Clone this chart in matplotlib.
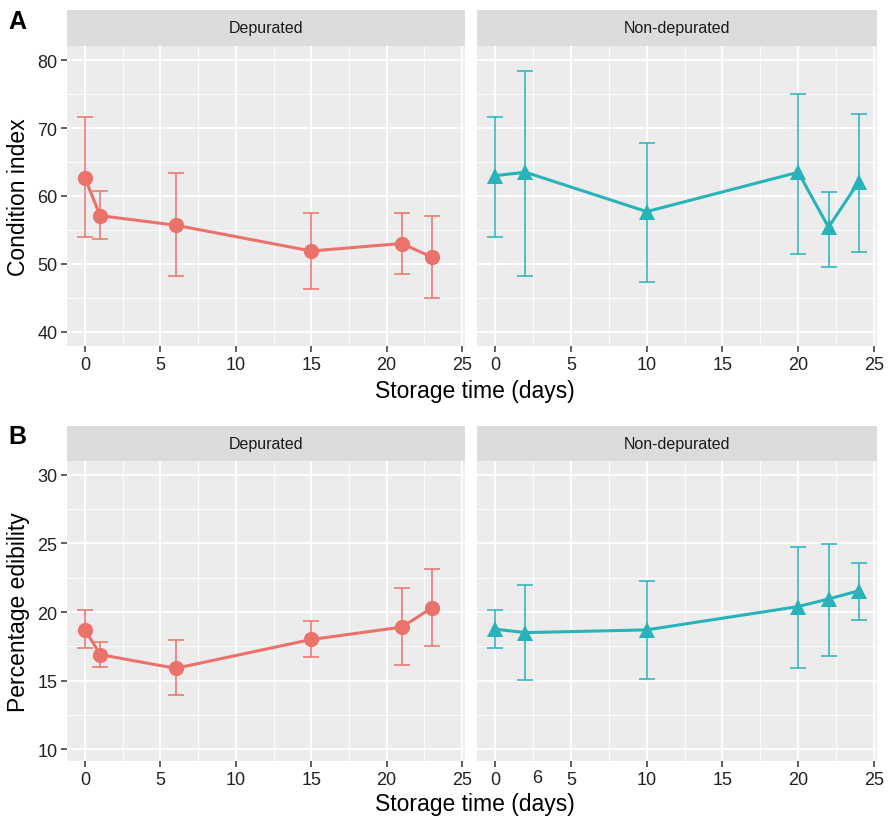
import matplotlib
matplotlib.use("Agg")
import matplotlib.pyplot as plt
from matplotlib.transforms import blended_transform_factory
import numpy as np

plt.rcParams['font.family'] = ['Liberation Sans', 'DejaVu Sans']

# ---- data ----
facets = ["Depurated", "Non-depurated"]
dep_days = [0, 1, 6, 15, 21, 23]
nondep_days = [0, 2, 10, 20, 22, 24]

ci_dep = [62.6, 57.1, 55.7, 51.9, 53.0, 51.0]
ci_dep_hi = [71.6, 60.7, 63.4, 57.5, 57.5, 57.1]
ci_dep_lo = [53.9, 53.7, 48.2, 46.3, 48.5, 45.0]
ci_non = [63.0, 63.5, 57.7, 63.5, 55.4, 62.1]
ci_non_hi = [71.6, 78.4, 67.8, 75.0, 60.6, 72.1]
ci_non_lo = [54.0, 48.2, 47.4, 51.4, 49.5, 51.8]

pe_dep = [18.7, 16.9, 15.9, 18.0, 18.9, 20.3]
pe_dep_hi = [20.15, 17.8, 17.95, 19.35, 21.75, 23.1]
pe_dep_lo = [17.35, 16.0, 13.95, 16.75, 16.15, 17.5]
pe_non = [18.75, 18.5, 18.7, 20.4, 20.95, 21.55]
pe_non_hi = [20.15, 21.95, 22.25, 24.7, 24.95, 23.6]
pe_non_lo = [17.35, 15.05, 15.15, 15.95, 16.8, 19.45]

x_ticks = [0, 5, 10, 15, 20, 25]
ci_ticks = [40, 50, 60, 70, 80]
pe_ticks = [10, 15, 20, 25, 30]

RED = "#EB726B"
TEAL = "#27B3B8"
BG = "#ECECEC"
STRIP = "#DCDCDC"

W, H = 888, 820
fig = plt.figure(figsize=(W / 100, H / 100), dpi=100)


def px_axes(x0, y0, x1, y1):
    return fig.add_axes([x0 / W, 1 - y1 / H, (x1 - x0) / W, (y1 - y0) / H])


def style(ax, ylim, yticks, yminor, show_y):
    ax.set_facecolor(BG)
    ax.set_xlim(-1.2, 25.2)
    ax.set_ylim(*ylim)
    ax.set_xticks(x_ticks)
    ax.set_xticks([2.5, 7.5, 12.5, 17.5, 22.5], minor=True)
    ax.set_yticks(yticks)
    ax.set_yticks(yminor, minor=True)
    ax.grid(which='major', color='white', linewidth=1.3)
    ax.grid(which='minor', color='white', linewidth=0.6)
    ax.set_axisbelow(True)
    for s in ax.spines.values():
        s.set_visible(False)
    ax.tick_params(which='major', length=4, width=1.1, color='#333333',
                   labelsize=13, labelcolor='#222222', pad=3)
    ax.tick_params(which='minor', length=0)
    if not show_y:
        ax.tick_params(axis='y', left=False, labelleft=False)


def strip(x0, y0, x1, y1, label):
    s = px_axes(x0, y0, x1, y1)
    s.set_facecolor(STRIP)
    s.set_xticks([]); s.set_yticks([])
    for sp in s.spines.values():
        sp.set_visible(False)
    s.text(0.5, 0.5, label, ha='center', va='center', fontsize=11.5, color='#1a1a1a')


def draw(ax, x, y, lo, hi, color, marker, ms):
    y = np.array(y); lo = np.array(lo); hi = np.array(hi)
    ax.errorbar(x, y, yerr=[y - lo, hi - y], fmt='none', ecolor=color,
                elinewidth=1.3, capsize=5.5, capthick=1.3, alpha=0.85, zorder=3)
    ax.plot(x, y, color=color, linewidth=2.2, marker=marker, markersize=ms,
            markeredgewidth=0, zorder=4)


LX = (67, 465)
RX = (477, 877)
A_strip = (11, 47)
A_panel = (47, 347)
B_strip = (427, 462)
B_panel = (462, 762)

axA1 = px_axes(LX[0], A_panel[0], LX[1], A_panel[1])
axA2 = px_axes(RX[0], A_panel[0], RX[1], A_panel[1])
axB1 = px_axes(LX[0], B_panel[0], LX[1], B_panel[1])
axB2 = px_axes(RX[0], B_panel[0], RX[1], B_panel[1])

ci_lim = (37.9, 82.1)
pe_lim = (9.15, 31.0)
style(axA1, ci_lim, ci_ticks, [45, 55, 65, 75], True)
style(axA2, ci_lim, ci_ticks, [45, 55, 65, 75], False)
style(axB1, pe_lim, pe_ticks, [12.5, 17.5, 22.5, 27.5], True)
style(axB2, pe_lim, pe_ticks, [12.5, 17.5, 22.5, 27.5], False)

draw(axA1, dep_days, ci_dep, ci_dep_lo, ci_dep_hi, RED, 'o', 11)
draw(axA2, nondep_days, ci_non, ci_non_lo, ci_non_hi, TEAL, '^', 12)
draw(axB1, dep_days, pe_dep, pe_dep_lo, pe_dep_hi, RED, 'o', 11)
draw(axB2, nondep_days, pe_non, pe_non_lo, pe_non_hi, TEAL, '^', 12)

strip(LX[0], A_strip[0], LX[1], A_strip[1], facets[0])
strip(RX[0], A_strip[0], RX[1], A_strip[1], facets[1])
strip(LX[0], B_strip[0], LX[1], B_strip[1], facets[0])
strip(RX[0], B_strip[0], RX[1], B_strip[1], facets[1])

# stray tick label in the reference
tr = blended_transform_factory(axB2.transData, axB2.transAxes)
axB2.text(2.8, -0.0255, "6", transform=tr, ha='center', va='top',
          fontsize=13, color='#222222')

# axis titles
axA1.set_ylabel("Condition index", fontsize=16.5, labelpad=5)
axB1.set_ylabel("Percentage edibility", fontsize=16.5, labelpad=5)
fig.text(475 / W, 1 - 392 / H, "Storage time (days)", ha='center', va='center', fontsize=16.5)
fig.text(475 / W, 1 - 805 / H, "Storage time (days)", ha='center', va='center', fontsize=16.5)

fig.text(8 / W, 1 - 22 / H, "A", ha='left', va='center', fontsize=18, fontweight='bold')
fig.text(8 / W, 1 - 437 / H, "B", ha='left', va='center', fontsize=18, fontweight='bold')

fig.savefig("out.png", dpi=100, facecolor='white')
